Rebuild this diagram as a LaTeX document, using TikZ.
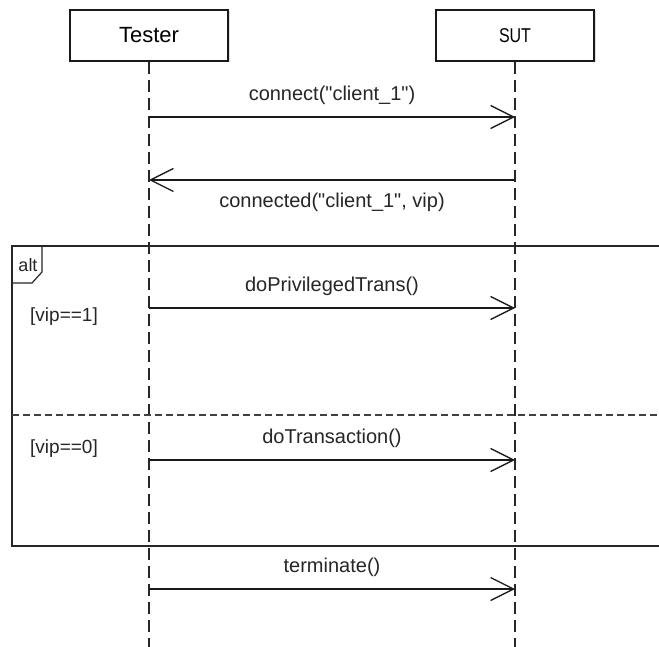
\documentclass[tikz,border=0pt]{standalone}
\usepackage{fontspec}
\setmainfont{Liberation Sans}
\usepackage{graphicx}
\usetikzlibrary{arrows.meta,shadows}
\begin{document}
\begin{tikzpicture}[x=1pt,y=-1pt,
  actor/.style={draw=black!90, line width=2pt, minimum width=158pt, minimum height=51pt, fill=white, inner sep=0pt,
    drop shadow={shadow xshift=1.5pt, shadow yshift=-1.5pt, opacity=0.25, fill=gray}},
  life/.style={line width=1.2pt, dash pattern=on 12pt off 6pt, black!85},
  msg/.style={line width=1.3pt, black!90, -{Straight Barb[length=23pt, width=23pt, line width=1.3pt]}},
  lbl/.style={font=\fontsize{20}{22}\selectfont, text=black!85, inner sep=0pt},
  frame/.style={line width=1.5pt, black!85},
  sepline/.style={line width=2pt, black!75, dash pattern=on 7pt off 4pt},
  guard/.style={font=\fontsize{19}{21}\selectfont, text=black!85, inner sep=0pt}]
\useasboundingbox (0,0) rectangle (659,647);
\fill[white] (0,0) rectangle (659,647);

% actors
\node[actor] (tester) at (149,35.5) {\fontsize{22}{24}\selectfont Tester};
\node[actor] (sut) at (515,35.5) {\scalebox{0.8}[1]{\fontsize{20}{22}\selectfont SUT}};

% lifeline ends
\coordinate (tend) at (149,647);
\coordinate (send) at (515,647);
\draw[life] (tester.south) -- (tend);
\draw[life] (sut.south) -- (send);

% combined fragment
\coordinate (ftr) at (660,246);
\coordinate (ftl) at (12,246);
\coordinate (fbl) at (12,546);
\coordinate (fbr) at (660,546);
\draw[frame] (ftr) -- (ftl) -- (fbl) -- (fbr);
\coordinate (tab1) at (12,283);
\coordinate (tab2) at (32,283);
\coordinate (tab3) at (42,272);
\coordinate (tab4) at (42,246);
\draw[frame, line width=1.2pt] (tab1) -- (tab2) -- (tab3) -- (tab4);
\node[guard, font=\fontsize{18}{20}\selectfont] (alt) at (28,265) {alt};
\coordinate (sepl) at (12,415);
\coordinate (sepr) at (660,415);
\draw[sepline] (sepl) -- (sepr);
\node[guard] (g1) at (64,317) {[vip==1]};
\node[guard] (g0) at (64,449) {[vip==0]};

% messages
\coordinate (t1) at (149,117); \coordinate (s1) at (515,117);
\coordinate (t2) at (149,180); \coordinate (s2) at (515,180);
\coordinate (t3) at (149,308); \coordinate (s3) at (515,308);
\coordinate (t4) at (149,460); \coordinate (s4) at (515,460);
\coordinate (t5) at (149,589); \coordinate (s5) at (515,589);

\draw[msg] (t1) -- node[lbl, yshift=22pt] (m1) {connect(\textquotedbl client\_1\textquotedbl)} (s1);
\draw[msg] (s2) -- node[lbl, yshift=-22pt] (m2) {connected(\textquotedbl client\_1\textquotedbl, vip)} (t2);
\draw[msg] (t3) -- node[lbl, yshift=22pt] (m3) {doPrivilegedTrans()} (s3);
\draw[msg] (t4) -- node[lbl, yshift=22pt] (m4) {doTransaction()} (s4);
\draw[msg] (t5) -- node[lbl, yshift=22pt] (m5) {terminate()} (s5);
\end{tikzpicture}
\end{document}
